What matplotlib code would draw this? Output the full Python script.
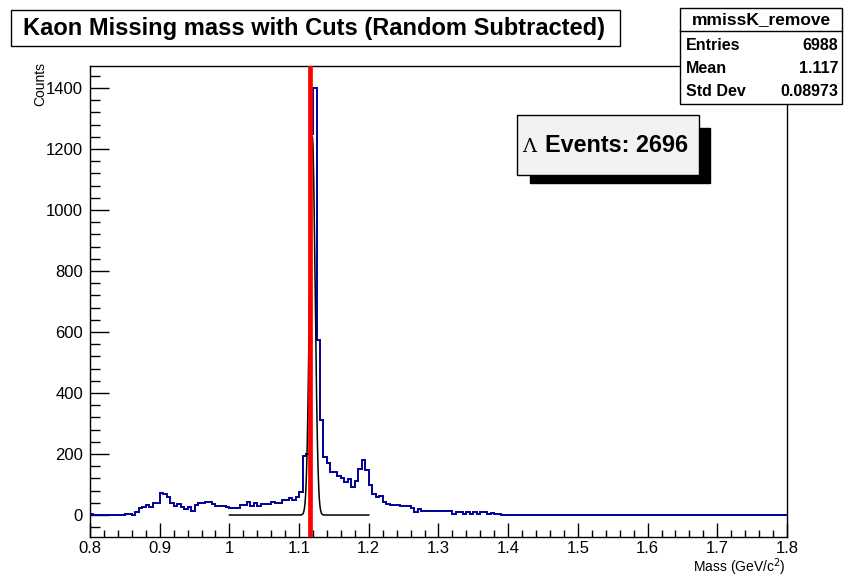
import numpy as np
import matplotlib
matplotlib.use("Agg")
import matplotlib.pyplot as plt
from matplotlib.patches import Rectangle
from matplotlib.lines import Line2D
from matplotlib.ticker import MultipleLocator

plt.rcParams['font.family'] = ['Liberation Sans', 'DejaVu Sans']

# histogram: 200 bins of 0.005 GeV from 0.8 to 1.8 (random subtracted counts)
bin_lo, bin_hi, n_bins = 0.8, 1.8, 200
counts = [
    5, 0, 0, 0, 0, 0, 0, 0, 0, 0,               # 0.800 - 0.845
    5, 5, 0, 10, 22, 25, 33, 27, 38, 38,         # 0.850 - 0.895
    73, 68, 60, 38, 30, 35, 27, 20, 25, 12,      # 0.900 - 0.945
    33, 38, 38, 44, 44, 35, 30, 30, 30, 27,      # 0.950 - 0.995
    22, 22, 22, 33, 33, 44, 30, 38, 30, 35,      # 1.000 - 1.045
    35, 35, 44, 38, 38, 50, 50, 55, 50, 60,      # 1.050 - 1.095
    75, 195, 200, 1250, 1400, 575, 311, 191, 172, 140,  # 1.100 - 1.145
    140, 128, 120, 108, 118, 92, 110, 150, 180, 148,    # 1.150 - 1.195
    98, 70, 60, 62, 44, 36, 33, 33, 33, 31,      # 1.200 - 1.245
    31, 31, 23, 11, 21, 14, 14, 14, 14, 14,      # 1.250 - 1.295
    14, 14, 14, 12, 5, 10, 10, 5, 10, 5,         # 1.300 - 1.345
    10, 5, 10, 10, 5, 8, 3, 2, 0, 0,             # 1.350 - 1.395
    0, 0, 0, 0, 0, 0, 0, 0, 0, 0, 0, 0, 0, 0, 0, 0, 0, 0, 0, 0,   # 1.40 - 1.50
    0, 0, 0, 0, 0, 0, 0, 0, 0, 0, 0, 0, 0, 0, 0, 0, 0, 0, 0, 0,   # 1.50 - 1.60
    0, 0, 0, 0, 0, 0, 0, 0, 0, 0, 0, 0, 0, 0, 0, 0, 0, 0, 0, 0,   # 1.60 - 1.70
    0, 0, 0, 0, 0, 0, 0, 0, 0, 0, 0, 0, 0, 0, 0, 0, 0, 0, 0, 0,   # 1.70 - 1.80
]

# gaussian fit drawn over 1.0 - 1.2
fit_range = (1.0, 1.2)
fit_amp, fit_mean, fit_sigma = 1240.0, 1.119, 0.004
lambda_mass = 1.1157

stats_name = "mmissK_remove"
stats_rows = [("Entries", "6988"), ("Mean", "1.117"), ("Std Dev", "0.08973")]
title = "Kaon Missing mass with Cuts (Random Subtracted)"
n_events = 2696

W, H = 852, 579
fig = plt.figure(figsize=(W / 100, H / 100), dpi=100)


def fx(x):
    return x / W


def fy(y):
    return 1 - y / H


ax = fig.add_axes([fx(90), fy(537), fx(787) - fx(90), fy(66) - fy(537)])

edges = np.linspace(bin_lo, bin_hi, n_bins + 1)
ax.stairs(counts, edges, color='#000099', lw=1.4, zorder=2)

xf = np.linspace(fit_range[0], fit_range[1], 800)
ax.plot(xf, fit_amp * np.exp(-0.5 * ((xf - fit_mean) / fit_sigma) ** 2),
        color='black', lw=1.1, zorder=3)

ax.axvline(lambda_mass, color='#ff0000', lw=3.4, zorder=4)

ax.set_xlim(0.8, 1.8)
ax.set_ylim(-72, 1472)
ax.xaxis.set_major_locator(MultipleLocator(0.1))
ax.xaxis.set_minor_locator(MultipleLocator(0.02))
ax.yaxis.set_major_locator(MultipleLocator(200))
ax.yaxis.set_minor_locator(MultipleLocator(40))
ax.set_xticks(np.arange(0.8, 1.81, 0.1))
ax.set_xticklabels(['0.8', '0.9', '1', '1.1', '1.2', '1.3', '1.4', '1.5', '1.6', '1.7', '1.8'])
ax.tick_params(axis='x', which='major', direction='in', length=10, width=1.0,
               labelsize=12, pad=3, top=False)
ax.tick_params(axis='x', which='minor', direction='in', length=5, width=1.0, top=False)
ax.tick_params(axis='y', which='major', direction='in', length=14, width=1.0,
               labelsize=12, pad=5, right=False)
ax.tick_params(axis='y', which='minor', direction='in', length=7, width=1.0, right=False)
for s in ax.spines.values():
    s.set_linewidth(1.0)

fig.text(fx(786), fy(578), r'Mass (GeV/c$^{2}$)', ha='right', va='bottom', fontsize=10)
fig.text(fx(40), fy(62), 'Counts', ha='center', va='top', rotation=90, fontsize=10)

# title box
fig.add_artist(Rectangle((fx(11), fy(46)), fx(620) - fx(11), fy(10) - fy(46),
                         transform=fig.transFigure, facecolor='white',
                         edgecolor='black', lw=1.0, zorder=5))
fig.text(fx(314), fy(28), title, ha='center', va='center', fontsize=17,
         fontweight='bold', zorder=6)

# stats box
fig.add_artist(Rectangle((fx(680), fy(104)), fx(842) - fx(680), fy(8) - fy(104),
                         transform=fig.transFigure, facecolor='white',
                         edgecolor='black', lw=1.0, zorder=5))
fig.add_artist(Line2D([fx(680), fx(842)], [fy(31), fy(31)], transform=fig.transFigure,
                      color='black', lw=1.0, zorder=6))
fig.text(fx(761), fy(20), stats_name, ha='center', va='center', fontsize=12.5,
         fontweight='bold', zorder=6)
for i, (k, v) in enumerate(stats_rows):
    yy = 45 + i * 23.5
    fig.text(fx(686), fy(yy), k, ha='left', va='center', fontsize=11.5,
             fontweight='bold', zorder=6)
    fig.text(fx(838), fy(yy), v, ha='right', va='center', fontsize=11.5,
             fontweight='bold', zorder=6)

# lambda events box with shadow
fig.add_artist(Rectangle((fx(530), fy(183)), fx(710) - fx(530), fy(128) - fy(183),
                         transform=fig.transFigure, facecolor='black',
                         edgecolor='black', lw=1.0, zorder=5))
fig.add_artist(Rectangle((fx(517), fy(175)), fx(699) - fx(517), fy(115) - fy(175),
                         transform=fig.transFigure, facecolor='#f2f2f2',
                         edgecolor='black', lw=1.0, zorder=6))
fig.text(fx(522), fy(147), '\u039b', ha='left', va='center', fontsize=14,
         family='DejaVu Serif', zorder=7)
fig.text(fx(545), fy(146), 'Events: %d' % n_events, ha='left', va='center',
         fontsize=16.8, fontweight='bold', zorder=7)

fig.savefig('out.png', dpi=100)
